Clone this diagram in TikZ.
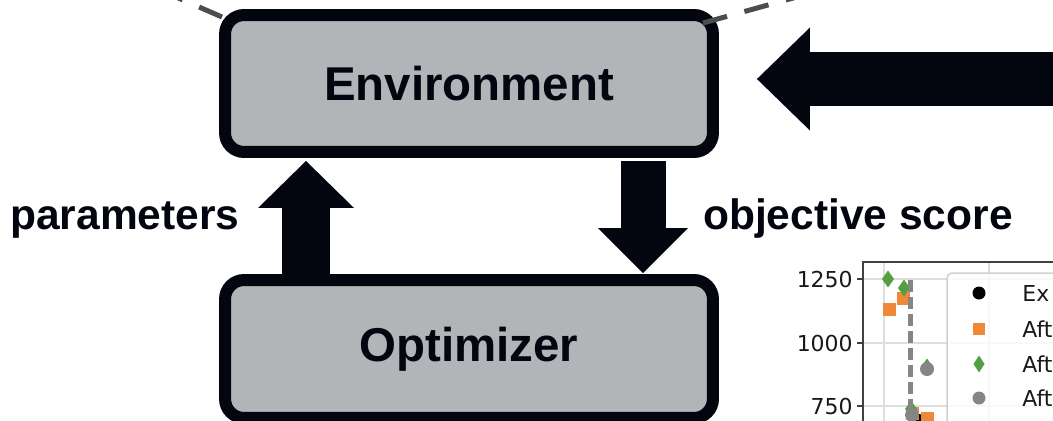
\documentclass[tikz,border=0pt]{standalone}
\usepackage{fontspec}
\setmainfont{Liberation Sans}
\newfontfamily\plotfont{DejaVu Sans}
\usetikzlibrary{arrows.meta,calc,positioning}
\definecolor{boxfill}{HTML}{B3B4B8}
\definecolor{ink}{HTML}{03050F}
\definecolor{callgrey}{HTML}{4D4D4D}
\definecolor{mplorange}{HTML}{F0883A}
\definecolor{mplgreen}{HTML}{53A042}
\definecolor{mplgrey}{HTML}{858585}
\definecolor{gridgrey}{HTML}{DEDEDE}

\begin{document}
\begin{tikzpicture}[x=0.02cm,y=-0.02cm,
		block/.style={draw=ink, fill=boxfill, line width=0.24cm, rounded corners=0.38cm,
			minimum width=9.76cm, font=\fontsize{27}{30}\selectfont\bfseries, text=ink},
		flowlabel/.style={font=\fontsize{24.2}{28}\selectfont\bfseries, text=ink, anchor=base, inner sep=0pt},
		uparrow/.style={draw=ink, line width=0.96cm, -{Triangle[length=0.94cm,width=1.92cm,line width=0pt]}},
		downarrow/.style={draw=ink, line width=0.9cm, -{Triangle[length=0.9cm,width=1.8cm,line width=0pt]}},
		inarrow/.style={draw=ink, line width=1.08cm, -{Triangle[length=1.06cm,width=2.06cm,line width=0pt]}},
		callout/.style={draw=callgrey, line width=0.1cm, dash pattern=on 0.5cm off 0.36cm},
		gridline/.style={draw=gridgrey, line width=0.03cm},
		spine/.style={draw=black!75, line width=0.025cm},
		ticklabel/.style={anchor=east, inner sep=0pt, font=\plotfont\fontsize{12.5}{14}\selectfont, text=black!90},
		legendtext/.style={anchor=west, inner sep=0pt, font=\plotfont\fontsize{12.5}{14}\selectfont, text=black!90}]
		\useasboundingbox (0,0) rectangle (1053,420);

		% boxes
		\node [block, minimum height=2.74cm] (env) at (469,83.5) {Environment};
		\node [block, minimum height=2.76cm] (opt) at (469,349) {Optimizer};

		% dashed lines from above
		\draw [callout] ($(env.north west)+(3,8)$) -- (160,-10);
		\draw [callout] ($(env.north east)+(-16,14)$) -- (822,-10);

		% arrows
		\coordinate (source) at (1075,79);
		\draw [inarrow] (source) -- ($(env.east)+(38,-4.5)$);
		\draw [uparrow] ($(opt.north)+(-163,0)$) -- ($(env.south)+(-163,3)$);
		\draw [downarrow] ($(env.south)+(174,3)$) -- ($(opt.north)+(174,-1)$);
		\node [flowlabel] (params) at (125,229) {parameters};
		\node [flowlabel] (score) at (858,229) {objective score};

		% plot corner
		\foreach \gy in {279,343,406}
			\draw [gridline] (863,\gy) -- (1060,\gy);
		\foreach \gx in {884,989}
			\draw [gridline] (\gx,262) -- (\gx,425);
		\draw [spine] (1060,262) -- (863,262) -- (863,425);
		\foreach \gy/\val in {279/1250,343/1000,406/750} {
			\draw [spine] (857,\gy) -- (863,\gy);
			\node [ticklabel] (tick\val) at (853,\gy) {\val};
		}
		\fill [black] (919,421) circle (0.14cm);
		\foreach \mx/\my in {889/309,903/298,927/418,912/413}
			\fill [mplorange] (\mx-6.5,\my-6.5) rectangle ++(13,13);
		\foreach \mx/\my in {888/279,904/288,927/367,911/409}
			\fill [mplgreen] (\mx,\my-8.5) -- (\mx+6,\my) -- (\mx,\my+8.5) -- (\mx-6,\my) -- cycle;
		\draw [mplgrey, line width=0.1cm, dash pattern=on 0.24cm off 0.1cm] (910,280) -- (910,430);
		\foreach \mx/\my in {927/369,912/415}
			\fill [mplgrey] (\mx,\my) circle (0.14cm);

		% legend
		\draw [draw=black!18, fill=white, fill opacity=0.8, rounded corners=0.1cm, line width=0.03cm] (947,273) rectangle (1075,440);
		\fill [black] (979,293) circle (0.13cm);
		\fill [mplorange] (973,323) rectangle ++(12,12);
		\fill [mplgreen] (979,355.5) -- (984.5,364) -- (979,372.5) -- (973.5,364) -- cycle;
		\fill [mplgrey] (979,398) circle (0.13cm);
		\node [legendtext] (legEx) at (1022,293) {Ex};
		\node [legendtext] (legA) at (1022,329) {Aft};
		\node [legendtext] (legB) at (1022,364) {Aft};
		\node [legendtext] (legC) at (1022,398) {Aft};
\end{tikzpicture}
\end{document}
